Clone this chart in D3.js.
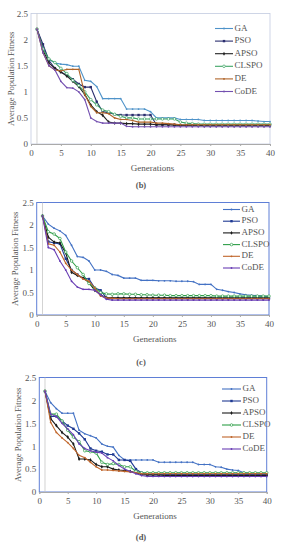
<!DOCTYPE html>
<html lang="en">
<head>
  <meta charset="UTF-8">
  <title>Average Population Fitness</title>
  <script src="https://d3js.org/d3.v7.min.js"></script>
  <style>
    body { margin: 0; background: #fff; }
    svg text { font-family: "Liberation Serif", "DejaVu Serif", serif; fill: #555; }
  </style>
</head>
<body>
<svg width="281" height="550"></svg>
<script>
  var gens = [1,2,3,4,5,6,7,8,9,10,11,12,13,14,15,16,17,18,19,20,21,22,23,24,25,26,27,28,29,30,31,32,33,34,35,36,37,38,39,40];
  var names = ['GA', 'PSO', 'APSO', 'CLSPO', 'DE', 'CoDE'];
  var xTicks = [0, 5, 10, 15, 20, 25, 30, 35, 40];
  var yTicks = [0, 0.5, 1, 1.5, 2, 2.5];

  // panel (b)
  var gaB    = [2.2,1.85,1.62,1.55,1.53,1.52,1.49,1.49,1.22,1.2,1.1,0.87,0.87,0.87,0.87,0.67,0.67,0.67,0.67,0.62,0.5,0.5,0.5,0.5,0.47,0.47,0.47,0.47,0.45,0.45,0.45,0.45,0.45,0.45,0.45,0.45,0.45,0.44,0.43,0.43];
  var psoB   = [2.2,1.91,1.6,1.45,1.38,1.32,1.24,1.15,1.09,1.09,0.81,0.62,0.6,0.57,0.555,0.555,0.555,0.555,0.555,0.555,0.37,0.37,0.37,0.37,0.36,0.36,0.36,0.36,0.36,0.36,0.36,0.36,0.36,0.36,0.36,0.36,0.36,0.36,0.36,0.36];
  var apsoB  = [2.2,1.8,1.55,1.45,1.38,1.3,1.2,1.1,0.95,0.75,0.62,0.55,0.42,0.4,0.4,0.39,0.39,0.38,0.38,0.38,0.37,0.37,0.37,0.36,0.36,0.36,0.36,0.36,0.35,0.35,0.35,0.35,0.35,0.35,0.35,0.35,0.35,0.35,0.35,0.35];
  var clspoB = [2.2,1.82,1.63,1.56,1.45,1.35,1.22,1.12,1.0,0.85,0.75,0.65,0.62,0.57,0.53,0.5,0.5,0.48,0.48,0.48,0.48,0.48,0.48,0.48,0.42,0.4,0.39,0.38,0.38,0.38,0.38,0.38,0.38,0.38,0.38,0.38,0.38,0.38,0.38,0.38];
  var deB    = [2.2,1.75,1.5,1.42,1.4,1.43,1.43,1.43,0.95,0.72,0.6,0.6,0.58,0.5,0.47,0.47,0.45,0.42,0.42,0.42,0.4,0.4,0.39,0.38,0.37,0.37,0.37,0.37,0.37,0.37,0.37,0.37,0.37,0.37,0.37,0.37,0.37,0.37,0.37,0.37];
  var codeB  = [2.2,1.75,1.5,1.42,1.2,1.08,1.07,1.0,0.85,0.5,0.43,0.4,0.4,0.4,0.4,0.34,0.33,0.33,0.33,0.33,0.33,0.33,0.33,0.33,0.33,0.33,0.33,0.33,0.33,0.33,0.33,0.33,0.33,0.33,0.33,0.33,0.33,0.33,0.33,0.33];

  // panel (c)
  var gaC    = [2.2,2.02,1.93,1.87,1.77,1.55,1.3,1.28,1.2,1.0,1.0,0.97,0.9,0.88,0.82,0.82,0.82,0.77,0.77,0.77,0.76,0.76,0.76,0.75,0.75,0.75,0.74,0.68,0.68,0.68,0.57,0.55,0.52,0.5,0.47,0.45,0.44,0.43,0.42,0.41];
  var psoC   = [2.2,1.63,1.6,1.58,1.25,1.0,0.9,0.82,0.8,0.6,0.55,0.38,0.37,0.37,0.37,0.37,0.37,0.37,0.37,0.37,0.37,0.37,0.37,0.37,0.37,0.37,0.37,0.37,0.37,0.37,0.37,0.37,0.37,0.37,0.37,0.37,0.37,0.37,0.37,0.37];
  var apsoC  = [2.2,1.73,1.62,1.6,1.38,0.95,0.88,0.82,0.72,0.55,0.45,0.38,0.38,0.38,0.38,0.38,0.38,0.38,0.38,0.38,0.38,0.38,0.38,0.38,0.38,0.38,0.38,0.38,0.38,0.38,0.38,0.38,0.38,0.38,0.38,0.38,0.38,0.38,0.38,0.38];
  var clspoC = [2.2,1.85,1.8,1.7,1.4,1.2,1.05,0.9,0.7,0.6,0.5,0.47,0.46,0.47,0.47,0.46,0.46,0.45,0.45,0.44,0.44,0.44,0.43,0.43,0.43,0.43,0.43,0.43,0.43,0.43,0.42,0.42,0.42,0.42,0.42,0.42,0.42,0.42,0.42,0.42];
  var deC    = [2.2,1.58,1.55,1.4,1.15,1.0,0.9,0.8,0.75,0.6,0.42,0.38,0.37,0.36,0.36,0.36,0.36,0.36,0.36,0.36,0.36,0.36,0.36,0.36,0.36,0.36,0.36,0.36,0.36,0.36,0.36,0.36,0.36,0.36,0.36,0.36,0.36,0.36,0.36,0.36];
  var codeC  = [2.2,1.5,1.45,1.2,1.0,0.75,0.62,0.57,0.57,0.55,0.45,0.35,0.33,0.33,0.33,0.33,0.33,0.33,0.33,0.33,0.33,0.33,0.33,0.33,0.33,0.33,0.33,0.33,0.33,0.33,0.33,0.33,0.33,0.33,0.33,0.33,0.33,0.33,0.33,0.33];

  // panel (d)
  var gaD    = [2.2,1.95,1.82,1.72,1.72,1.72,1.35,1.27,1.23,1.18,1.05,1.0,0.98,0.8,0.7,0.7,0.7,0.7,0.7,0.7,0.65,0.65,0.65,0.65,0.65,0.65,0.65,0.6,0.6,0.6,0.55,0.54,0.5,0.48,0.47,0.42,0.4,0.4,0.4,0.4];
  var psoD   = [2.2,1.65,1.65,1.55,1.45,1.38,1.28,1.15,0.95,0.9,0.88,0.82,0.82,0.7,0.7,0.68,0.5,0.42,0.38,0.38,0.38,0.38,0.38,0.38,0.38,0.38,0.38,0.38,0.38,0.38,0.38,0.38,0.38,0.38,0.38,0.38,0.38,0.38,0.38,0.38];
  var apsoD  = [2.2,1.6,1.45,1.3,1.2,1.05,0.72,0.72,0.7,0.6,0.55,0.55,0.5,0.48,0.47,0.45,0.42,0.38,0.37,0.37,0.37,0.36,0.36,0.36,0.36,0.36,0.36,0.36,0.36,0.36,0.36,0.36,0.36,0.36,0.36,0.36,0.36,0.36,0.36,0.36];
  var clspoD = [2.2,1.7,1.7,1.55,1.35,1.2,1.1,0.9,0.88,0.85,0.65,0.6,0.62,0.6,0.55,0.55,0.45,0.42,0.42,0.42,0.42,0.42,0.42,0.42,0.42,0.42,0.42,0.42,0.42,0.42,0.42,0.42,0.42,0.42,0.42,0.42,0.42,0.42,0.42,0.42];
  var deD    = [2.2,1.52,1.3,1.18,1.08,0.95,0.8,0.75,0.65,0.55,0.48,0.48,0.47,0.46,0.45,0.44,0.42,0.4,0.4,0.4,0.4,0.4,0.4,0.4,0.4,0.4,0.4,0.4,0.4,0.4,0.4,0.4,0.4,0.4,0.4,0.4,0.4,0.4,0.4,0.4];
  var codeD  = [2.2,1.7,1.65,1.5,1.38,1.25,1.05,0.95,0.9,0.87,0.85,0.75,0.68,0.58,0.5,0.45,0.4,0.36,0.34,0.34,0.34,0.34,0.34,0.34,0.34,0.34,0.34,0.34,0.34,0.34,0.34,0.34,0.34,0.34,0.34,0.34,0.34,0.34,0.34,0.34];

  var colorsB = ['#4f93c9', '#2a2d6e', '#222222', '#3fa565', '#b0652a', '#7450b0'];
  var colorsCD = ['#4472c4', '#1f3a93', '#1a1a1a', '#2e9e48', '#c0652a', '#6a3fb5'];
  var markers = ['dot', 'square', 'diamond', 'circle', 'dot', 'dot'];

  var svg = d3.select('svg');

  // one marker at (cx, cy)
  function drawMarker(m, kind, color, cx, cy) {
    if (kind === 'square') {
      m.append('rect').attr('x', cx - 1.2).attr('y', cy - 1.2)
        .attr('width', 2.4).attr('height', 2.4).attr('fill', color);
    } else if (kind === 'diamond') {
      m.append('path').attr('d', d3.symbol().type(d3.symbolDiamond).size(4.5)())
        .attr('transform', 'translate(' + cx + ',' + cy + ')')
        .attr('fill', color);
    } else if (kind === 'circle') {
      m.append('circle').attr('cx', cx).attr('cy', cy).attr('r', 1.3)
        .attr('fill', '#fff').attr('stroke', color).attr('stroke-width', 0.7);
    } else {
      m.append('circle').attr('cx', cx).attr('cy', cy).attr('r', 0.9).attr('fill', color);
    }
  }

  function drawPanel(p) {
    var g = svg.append('g');
    var x = d3.scaleLinear().domain([0, 40]).range([p.left, p.right]);
    var y = d3.scaleLinear().domain([0, 2.5]).range([p.bottom, p.top]);

    g.append('rect')
      .attr('x', p.left).attr('y', p.top)
      .attr('width', p.right - p.left).attr('height', p.bottom - p.top)
      .attr('fill', 'none').attr('stroke', p.frame).attr('stroke-width', p.frameWidth);

    // light guide at generation 1
    g.append('line')
      .attr('x1', x(1)).attr('x2', x(1))
      .attr('y1', p.top).attr('y2', p.bottom)
      .attr('stroke', '#c8c8c8').attr('stroke-width', 0.8);

    var xAxis = g.append('g')
      .attr('transform', 'translate(0,' + p.bottom + ')')
      .call(d3.axisBottom(x).tickValues(xTicks).tickSize(2).tickPadding(4));
    xAxis.select('.domain').attr('stroke', '#aaa');
    xAxis.selectAll('.tick line').attr('stroke', '#aaa');
    xAxis.selectAll('text').attr('font-size', 9).attr('fill', '#555');

    var yAxis = g.append('g')
      .attr('transform', 'translate(' + p.left + ',0)')
      .call(d3.axisLeft(y).tickValues(yTicks).tickSize(0).tickPadding(3)
        .tickFormat(function (d) { return String(d); }));
    yAxis.select('.domain').remove();
    yAxis.selectAll('text').attr('font-size', 9).attr('fill', '#555');

    g.append('text')
      .attr('transform', 'translate(' + p.titleX + ',' + ((p.top + p.bottom) / 2) + ') rotate(-90)')
      .attr('text-anchor', 'middle')
      .attr('dominant-baseline', 'middle')
      .attr('font-size', 8.6)
      .text('Average Population Fitness');

    g.append('text')
      .attr('x', (p.left + p.right) / 2 + 2)
      .attr('y', p.genY)
      .attr('text-anchor', 'middle')
      .attr('dominant-baseline', 'middle')
      .attr('font-size', 9)
      .text('Generations');

    g.append('text')
      .attr('x', 141)
      .attr('y', p.labelY)
      .attr('text-anchor', 'middle')
      .attr('dominant-baseline', 'middle')
      .attr('font-size', 8.5)
      .attr('font-weight', 'bold')
      .attr('fill', '#222')
      .text(p.label);

    var line = d3.line()
      .x(function (d, i) { return x(gens[i]); })
      .y(function (d) { return y(d); });

    p.series.forEach(function (vals, k) {
      var color = p.colors[k];
      g.append('path')
        .datum(vals)
        .attr('fill', 'none')
        .attr('stroke', color)
        .attr('stroke-width', 1.1)
        .attr('d', line);
      g.append('g').selectAll('g').data(vals).enter().append('g')
        .each(function (d, i) {
          drawMarker(d3.select(this), p.markers[k], color, x(gens[i]), y(d));
        });
    });

    // legend
    var lg = g.append('g');
    names.forEach(function (n, k) {
      var ly = p.legTop + k * p.legStep;
      lg.append('line')
        .attr('x1', p.legX).attr('x2', p.legX + p.legLen)
        .attr('y1', ly).attr('y2', ly)
        .attr('stroke', p.colors[k]).attr('stroke-width', 1.1);
      drawMarker(lg.append('g'), p.markers[k], p.colors[k], p.legX + p.legLen / 2, ly);
      lg.append('text')
        .attr('x', p.legX + p.legLen + 1.5)
        .attr('y', ly)
        .attr('dominant-baseline', 'middle')
        .attr('font-size', 9)
        .attr('fill', '#444')
        .text(n);
    });
  }

  drawPanel({
    left: 31, right: 270, top: 13.5, bottom: 144,
    frame: '#c3cbe0', frameWidth: 0.8,
    titleX: 12, genY: 169, label: '(b)', labelY: 186,
    series: [gaB, psoB, apsoB, clspoB, deB, codeB],
    colors: colorsB, markers: markers,
    legX: 215, legLen: 18, legTop: 28.5, legStep: 12.6
  });

  drawPanel({
    left: 36.7, right: 269, top: 202.5, bottom: 315,
    frame: '#5f7fd6', frameWidth: 1,
    titleX: 16, genY: 340, label: '(c)', labelY: 363,
    series: [gaC, psoC, apsoC, clspoC, deC, codeC],
    colors: colorsCD, markers: markers,
    legX: 223, legLen: 17, legTop: 209.5, legStep: 11.7
  });

  drawPanel({
    left: 39.3, right: 266.7, top: 377.5, bottom: 492,
    frame: '#5f7fd6', frameWidth: 1,
    titleX: 19, genY: 517, label: '(d)', labelY: 538,
    series: [gaD, psoD, apsoD, clspoD, deD, codeD],
    colors: colorsCD, markers: markers,
    legX: 222, legLen: 19, legTop: 389, legStep: 12
  });
</script>
</body>
</html>
